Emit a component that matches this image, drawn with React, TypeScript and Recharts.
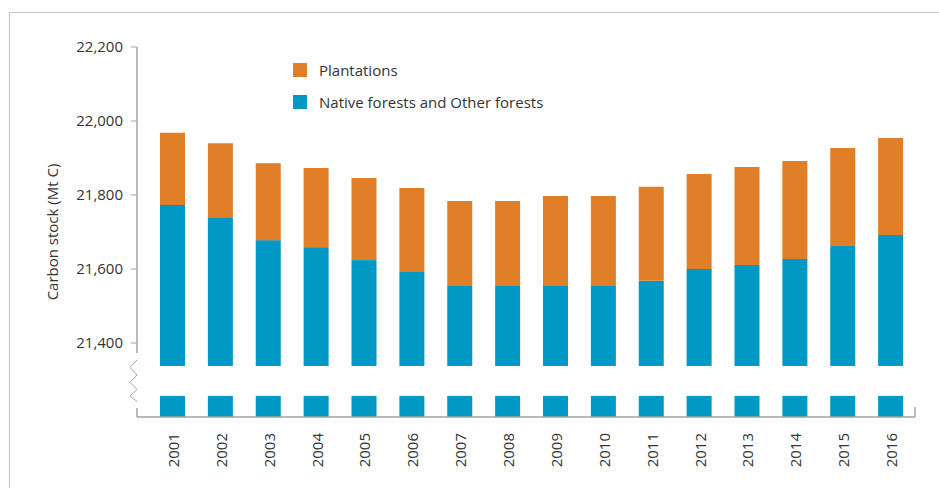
import React from "react";
import {
  BarChart,
  Bar,
  XAxis,
  YAxis,
  Legend,
  ReferenceArea,
} from "recharts";

const years = [
  "2001", "2002", "2003", "2004", "2005", "2006", "2007", "2008",
  "2009", "2010", "2011", "2012", "2013", "2014", "2015", "2016",
];
const nativeForests = [
  21773, 21740, 21678, 21659, 21624, 21592, 21554, 21554,
  21554, 21554, 21568, 21600, 21611, 21627, 21662, 21692,
];
const plantations = [
  195, 200, 208, 214, 222, 227, 230, 230,
  243, 243, 254, 257, 265, 265, 265, 262,
];
const yTicks = [21400, 21600, 21800, 22000, 22200];
const yDomain = [21200, 22200];
// value range hidden by the axis break
const breakFrom = 21257;
const breakTo = 21338;

const ORANGE = "#E17E28";
const BLUE = "#0098C5";
const AXIS = "#a3a3a3";
const TEXT = "#333333";
const FONT = "'Open Sans', sans-serif";
const X_PAD = 12;

const data = years.map((year, i) => ({
  year,
  native: nativeForests[i],
  plantations: plantations[i],
}));

const legendItems = [
  { label: "Plantations", color: ORANGE },
  { label: "Native forests and Other forests", color: BLUE },
];

function LegendBox() {
  return (
    <div style={{ fontFamily: FONT, fontSize: 15, color: TEXT }}>
      {legendItems.map((it) => (
        <div
          key={it.label}
          style={{ display: "flex", alignItems: "center", height: 32 }}
        >
          <span
            style={{
              display: "inline-block",
              width: 14,
              height: 14,
              background: it.color,
              marginRight: 12,
            }}
          />
          <span>{it.label}</span>
        </div>
      ))}
    </div>
  );
}

function YearTick({ x, y, payload }: any) {
  return (
    <text
      x={x}
      y={y + 8}
      transform={`rotate(-90, ${x}, ${y + 8})`}
      textAnchor="end"
      dominantBaseline="central"
      fill={TEXT}
      fontSize={15}
      fontFamily={FONT}
    >
      {payload.value}
    </text>
  );
}

// plot-area pixel of a value, from the bar's background box
function valueToY(v: number, top: number, h: number) {
  return top + ((yDomain[1] - v) / (yDomain[1] - yDomain[0])) * h;
}

// native bar cut by the axis break
function BrokenBar(props: any) {
  const { x, y, width, height, fill, background } = props;
  const top = background ? background.y : 47;
  const h = background ? background.height : 370;
  const gapTop = valueToY(breakTo, top, h);
  const gapBottom = valueToY(breakFrom, top, h);
  const bottom = y + height;
  return (
    <g>
      <rect x={x} y={y} width={width} height={Math.max(0, gapTop - y)} fill={fill} />
      <rect
        x={x}
        y={gapBottom}
        width={width}
        height={Math.max(0, bottom - gapBottom)}
        fill={fill}
      />
    </g>
  );
}

// value axis line with the zigzag break, plus the small end tick on the category axis
function BrokenAxis({ x, y, width, height }: any) {
  const ax = x - X_PAD;
  const gapTop = valueToY(breakTo, y, height);
  const gapBottom = valueToY(breakFrom, y, height);
  const zig = [-6, 1.5, 9, 16.5, 23.5, 30, 35.5]
    .map((dy, i) => `${i % 2 === 0 ? ax : ax - 7},${gapTop + dy}`)
    .join(" ");
  const bottom = y + height;
  return (
    <g>
      <line x1={ax} x2={ax} y1={y} y2={gapTop - 13} stroke={AXIS} strokeWidth={1.5} />
      <polyline points={zig} fill="none" stroke={AXIS} strokeWidth={1} />
      <line x1={ax} x2={ax} y1={gapBottom + 12} y2={bottom} stroke={AXIS} strokeWidth={1.5} />
      <line
        x1={x + width}
        x2={x + width}
        y1={bottom - 10}
        y2={bottom}
        stroke={AXIS}
        strokeWidth={1.5}
      />
    </g>
  );
}

export default function App() {
  return (
    <div
      style={{
        position: "absolute",
        left: 0,
        top: 0,
        width: 939,
        height: 488,
        background: "#fff",
        overflow: "hidden",
      }}
    >
      <div
        style={{
          position: "absolute",
          left: 9,
          top: 12,
          width: 940,
          height: 490,
          borderTop: "1.5px solid #c2c2c2",
          borderLeft: "1.5px solid #c2c2c2",
        }}
      />
      <BarChart
        width={939}
        height={488}
        data={data}
        margin={{ top: 47, right: 24, bottom: 0, left: 0 }}
        style={{ position: "absolute", left: 0, top: 0 }}
      >
        <XAxis
          dataKey="year"
          height={71}
          tick={<YearTick />}
          tickLine={false}
          axisLine={{ stroke: AXIS, strokeWidth: 1.5 }}
          padding={{ left: X_PAD, right: 0 }}
          interval={0}
        />
        <YAxis
          width={137}
          domain={yDomain}
          ticks={yTicks}
          allowDataOverflow
          tickSize={6}
          tickMargin={8}
          tickFormatter={(v: number) => v.toLocaleString("en-US")}
          tick={{ fill: TEXT, fontSize: 15, fontFamily: FONT }}
          tickLine={{ stroke: AXIS }}
          axisLine={false}
          label={{
            content: () => (
              <text
                x={52}
                y={232}
                transform="rotate(-90, 52, 232)"
                textAnchor="middle"
                dominantBaseline="central"
                fill={TEXT}
                fontSize={15}
                fontFamily={FONT}
              >
                Carbon stock (Mt C)
              </text>
            ),
          }}
        />
        <Legend
          layout="vertical"
          align="center"
          verticalAlign="middle"
          content={() => <LegendBox />}
          wrapperStyle={{ left: 293, top: 54, width: 320 }}
        />
        <ReferenceArea
          y1={yDomain[0]}
          y2={yDomain[1]}
          ifOverflow="visible"
          shape={<BrokenAxis />}
        />
        <Bar
          dataKey="native"
          stackId="a"
          fill={BLUE}
          barSize={25}
          shape={<BrokenBar />}
          isAnimationActive={false}
        />
        <Bar
          dataKey="plantations"
          stackId="a"
          fill={ORANGE}
          barSize={25}
          isAnimationActive={false}
        />
      </BarChart>
    </div>
  );
}
